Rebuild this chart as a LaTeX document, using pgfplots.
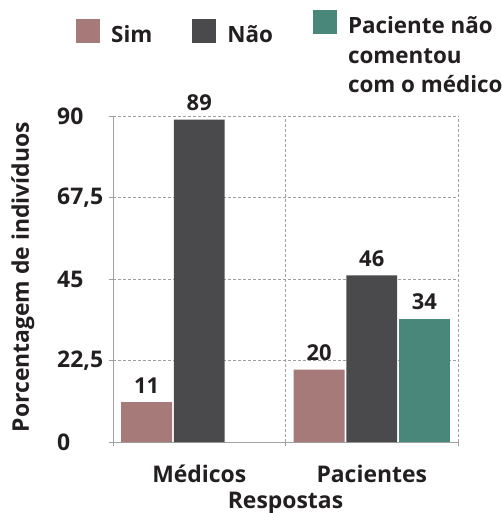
\documentclass[border=0pt]{standalone}
\usepackage{pgfplots}
\pgfplotsset{compat=1.18}
\usepackage{fontspec}
\setmainfont{Open Sans}
\definecolor{csim}{HTML}{A77A7A}
\definecolor{cnao}{HTML}{4A4A4C}
\definecolor{cpac}{HTML}{4A877B}
\definecolor{cgrid}{HTML}{A0A0A0}
\definecolor{ctxt}{HTML}{231F20}
\newcommand{\fa}{\fontsize{23}{28}\selectfont\bfseries}
\newcommand{\fn}{\fontsize{22}{28}\selectfont\bfseries}
\newcommand{\fl}{\fontsize{22.5}{30}\selectfont\bfseries}
\begin{document}
\begin{tikzpicture}
\begin{axis}[
  scale only axis, width=345bp, height=326bp,
  xmin=-0.5, xmax=1.5, ymin=0, ymax=90,
  ybar, bar width=0.295,
  xtick={0,1}, xticklabels={Médicos,Pacientes},
  minor xtick={-0.5,0.5,1.5},
  ytick={0,22.5,45,67.5,90}, yticklabels={0,{22,5},45,{67,5},90},
  axis x line*=bottom, axis y line*=left,
  axis line style={cgrid, line width=0.8bp, -},
  ymajorgrids, xminorgrids,
  grid style={cgrid, dash pattern=on 3bp off 2bp, line width=0.8bp},
  tick align=outside,
  major x tick style={draw=none},
  major tick length=4bp, minor tick length=4bp,
  tick style={cgrid, line width=0.8bp},
  minor tick style={cgrid, line width=0.8bp},
  tick label style={font=\fa, text=ctxt},
  yticklabel style={anchor=west, inner sep=0pt, xshift=-52bp},
  xticklabel style={anchor=base, inner sep=0pt, yshift=-36bp},
  label style={font=\fa, text=ctxt},
  xlabel={Respostas},
  xlabel style={at={(axis description cs:0.5,0)}, anchor=base, inner sep=0pt, yshift=-66bp},
  ylabel={Porcentagem de indivíduos},
  ylabel style={at={(axis description cs:-0.2435,0.506)}, rotate=0, anchor=base, inner sep=0pt},
  /pgf/number format/assume math mode=true,
  nodes near coords={\pgfmathprintnumber{\pgfplotspointmeta}},
  nodes near coords style={font=\fn, text=ctxt, anchor=south, yshift=5.5bp},
  legend columns=3,
  legend image code/.code={\fill[#1] (0bp,-1bp) rectangle (24bp,23bp);},
  legend style={at={(axis description cs:0,1)}, anchor=north west,
    xshift=-37bp, yshift=106bp, draw=none, fill=none, inner sep=0pt,
    font=\fl, text=ctxt, cells={anchor=base west},
    /tikz/every odd column/.append style={column sep=9bp},
    /tikz/every even column/.append style={column sep=38bp}},
]
\addplot[bar shift=-0.305, fill=csim, draw=none] coordinates {(0,11) (1,20)};
\addlegendentry{Sim}
\addplot[bar shift=0, fill=cnao, draw=none] coordinates {(0,89) (1,46)};
\addlegendentry{Não}
\addplot[bar shift=0.305, fill=cpac, draw=none,
  legend image code/.code={\fill[cpac] (0bp,8bp) rectangle (24bp,32bp);}] coordinates {(1,34)};
\addlegendentry{\raisebox{9bp}{\begin{tabular}[t]{@{}l@{}}Paciente não\\comentou\\com o médico\end{tabular}}}
\end{axis}
\pgfresetboundingbox
\path[use as bounding box] (current axis.south west) ++(-113bp,-71bp) rectangle ++(502bp,513bp);
\end{tikzpicture}
\end{document}
